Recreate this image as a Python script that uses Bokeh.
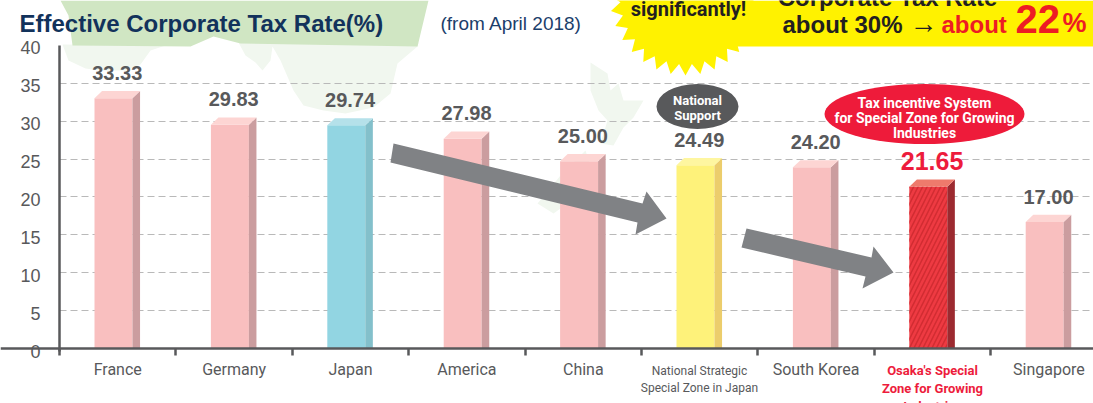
import numpy as np
from bokeh.embed import file_html
from bokeh.resources import INLINE
from bokeh.plotting import figure
from bokeh.models import Range1d, FixedTicker, Label, ColumnDataSource, LinearAxis
from bokeh.core.properties import value

categories = ["France", "Germany", "Japan", "America", "China",
              "National Strategic\nSpecial Zone in Japan", "South Korea",
              "Osaka's Special\nZone for Growing\nIndustries", "Singapore"]
values = [33.33, 29.83, 29.74, 27.98, 25.00, 24.49, 24.20, 21.65, 17.00]
value_labels = ["33.33", "29.83", "29.74", "27.98", "25.00", "24.49", "24.20", "21.65", "17.00"]
y_ticks = [0, 5, 10, 15, 20, 25, 30, 35, 40]
front_colors = ["#f9bfbf", "#f9bfbf", "#92d5e2", "#f9bfbf", "#f9bfbf", "#fef27a", "#f9bfbf", "#ee3a42", "#f9bfbf"]
side_colors = ["#cb9d9f", "#cb9d9f", "#83c0cb", "#cb9d9f", "#cb9d9f", "#eccd6c", "#cb9d9f", "#9c2a30", "#cb9d9f"]
top_colors = ["#fdd5d3", "#fdd5d3", "#b5e1ea", "#fdd5d3", "#fdd5d3", "#fef6a0", "#fdd5d3", "#ee7a6c", "#fdd5d3"]

PX_X0, PX_DX = 59.0, 116.4
PX_Y0, PX_DY = 348.0, 7.58
W, H = 1093, 403
GREY = "#58595b"
SANS = "Liberation Sans"
NARROW = "Roboto"

def dx(px): return (np.asarray(px, dtype=float) - PX_X0) / PX_DX
def dy(py): return (PX_Y0 - np.asarray(py, dtype=float)) / PX_DY

x0, x1 = float(dx(0)), float(dx(W))
y0, y1 = float(dy(H)), float(dy(0))
p = figure(width=W, height=H, output_backend="svg", toolbar_location=None,
           x_range=Range1d(x0, x1), y_range=Range1d(y0, y1),
           y_axis_location=None,
           min_border_left=0, min_border_right=0, min_border_top=0, min_border_bottom=0,
           outline_line_color=None)
LABEL_SHIFT = 2.5 / PX_DY
p.extra_y_ranges = {"labels": Range1d(y0 + LABEL_SHIFT, y1 + LABEL_SHIFT)}

# ---- axes
n = len(categories)
xa = p.xaxis[0]
xa.fixed_location = 0
xa.ticker = FixedTicker(ticks=[i + 0.5 for i in range(n)], minor_ticks=list(range(n + 1)))
xa.major_label_overrides = {i + 0.5: ("" if "\n" in c else c) for i, c in enumerate(categories)}
xa.major_tick_line_color = None
xa.major_tick_in = 0
xa.major_tick_out = 0
xa.minor_tick_in = 0
xa.minor_tick_out = 7
xa.minor_tick_line_color = GREY
xa.minor_tick_line_width = 2.5
xa.axis_line_color = GREY
xa.axis_line_width = 2.5
xa.major_label_standoff = 4
xa.major_label_text_font = NARROW
xa.major_label_text_font_size = "16px"
xa.major_label_text_color = GREY

ya = LinearAxis(y_range_name="labels", fixed_location=0)
ya.ticker = FixedTicker(ticks=y_ticks)
ya.bounds = (0, 40.3)
ya.major_tick_line_color = None
ya.major_tick_in = 0
ya.major_tick_out = 0
ya.minor_tick_line_color = None
ya.axis_line_color = GREY
ya.axis_line_width = 2.5
ya.major_label_standoff = 19
ya.major_label_text_font = SANS
ya.major_label_text_font_size = "18px"
ya.major_label_text_color = GREY
p.add_layout(ya, "left")

p.xgrid.visible = False
p.ygrid.ticker = FixedTicker(ticks=y_ticks[1:-1])
p.ygrid.cross_bounds = (0, x1)
p.ygrid.grid_line_color = "#b9b9b9"
p.ygrid.grid_line_dash = "7 4"
p.ygrid.grid_line_width = 1

# ---- background map
PALE, GREEN = "#f1f7ef", "#d0e6c3"
pale_shapes = [
    [(62, 44), (68, 60), (85, 68), (100, 70), (125, 70), (140, 64), (150, 50), (165, 45), (62, 44)],
    [(238, 42), (245, 55), (255, 62), (262, 70), (270, 60), (272, 46), (280, 60), (293, 90), (303, 105),
     (323, 110), (345, 113), (373, 107), (390, 93), (397, 63), (417, 46), (418, 42)],
    [(590, 62), (607, 73), (610, 90), (618, 83), (623, 100), (643, 100), (633, 117), (623, 127),
     (613, 145), (600, 143), (607, 120), (598, 110), (590, 90)],
    [(585, 150), (560, 175), (537, 203), (553, 213), (567, 203), (590, 165)],
]
green_shape = [(60, 0), (68, 15), (72, 45), (190, 46), (213, 36), (240, 43), (417, 46), (428, 0)]
for s in pale_shapes:
    a = np.array(s)
    p.patch(dx(a[:, 0]), dy(a[:, 1]), fill_color=PALE, line_color=None, level="image")
a = np.array(green_shape)
p.patch(dx(a[:, 0]), dy(a[:, 1]), fill_color=GREEN, line_color=None, level="image")

# ---- banner
YELLOW = "#fff200"
a = np.array([(735, 0), (1093, 0), (1093, 46), (735, 46)])
p.patch(dx(a[:, 0]), dy(a[:, 1]), fill_color=YELLOW, line_color=None)
angles = np.deg2rad(90 + np.arange(64) * 5.625)
radii = np.where(np.arange(64) % 2 == 0, 1.0, 0.86)
bx = 685 + 76 * radii * np.cos(angles)
by = -5 + 80 * radii * np.sin(angles)
p.patch(dx(bx), dy(by), fill_color=YELLOW, line_color=None)

# ---- bars
FRONT_L, FRONT_R, SIDE_R = 0.3007, 0.627, 0.692
TOP_DROP, TOP_RISE = 0.3, 0.65
idx = np.arange(n)
tops = np.array(values) - TOP_DROP
backs = np.array(values) + TOP_RISE
src = ColumnDataSource(dict(x=idx + (FRONT_L + FRONT_R) / 2, top=tops, color=front_colors))
p.vbar(x="x", width=FRONT_R - FRONT_L, bottom=0, top="top", fill_color="color", line_color=None, source=src)
p.patches([[i + FRONT_R, i + SIDE_R, i + SIDE_R, i + FRONT_R] for i in idx],
          [[0, 0, backs[i], tops[i]] for i in idx], fill_color=side_colors, line_color=None)
p.patches([[i + FRONT_L, i + FRONT_R, i + SIDE_R, i + FRONT_L + SIDE_R - FRONT_R] for i in idx],
          [[tops[i], tops[i], backs[i], backs[i]] for i in idx], fill_color=top_colors, line_color=None)
OSAKA = 7
p.vbar(x=[OSAKA + (FRONT_L + FRONT_R) / 2], width=FRONT_R - FRONT_L, bottom=0, top=[tops[OSAKA]],
       fill_alpha=0, line_color=None, hatch_pattern="right_diagonal_line", hatch_color="#cf2a30",
       hatch_scale=9, hatch_weight=1.6, hatch_alpha=0.9)

# ---- value labels
lx = idx + (FRONT_L + SIDE_R) / 2
for i in idx:
    osaka = i == OSAKA
    p.text([lx[i]], [backs[i]], text=[value_labels[i]], text_align="center", text_baseline="alphabetic",
           y_offset=-18, text_font=value(SANS), text_font_style="bold",
           text_font_size="25px" if osaka else "20px",
           text_color="#ed1c3c" if osaka else GREY)

# ---- arrows
ARROW = "#808285"
arrow1 = [(393, 143), (390, 162), (637, 222), (635, 234), (666, 218), (646, 191), (642, 203)]
arrow2 = [(746, 228), (741, 247), (865, 276), (862, 288), (893, 272), (873, 246), (871, 257)]
for arr in (arrow1, arrow2):
    a = np.array(arr)
    p.patch(dx(a[:, 0]), dy(a[:, 1]), fill_color=ARROW, line_color=None)

# ---- ellipses
p.ellipse(dx([697]), dy([106]), width=82 / PX_DX, height=45 / PX_DY, fill_color=GREY, line_color=None)
p.ellipse(dx([924]), dy([113.5]), width=200 / PX_DX, height=60 / PX_DY, fill_color="#ee1b3a", line_color=None)

BASELINE_FIX = 0.35

def label(txt, px, py, size, color, font=SANS, style="normal", align="center"):
    p.add_layout(Label(x=float(dx(px)), y=float(dy(py - BASELINE_FIX * size)), text=txt, text_font=font,
                       text_font_size=f"{size}px", text_font_style=style, text_color=color,
                       text_align=align, text_baseline="alphabetic"))

label("National", 697, 105, 13, "#ffffff", NARROW, "bold")
label("Support", 697, 120, 13, "#ffffff", NARROW, "bold")
label("Tax incentive System", 924, 107, 14, "#ffffff", NARROW, "bold")
label("for Special Zone for Growing", 924, 122, 14, "#ffffff", NARROW, "bold")
label("Industries", 924, 137, 14, "#ffffff", NARROW, "bold")

# ---- category labels that need their own colour / size
nat = categories[5].split("\n")
label(nat[0], 699, 375, 12, GREY, NARROW)
label(nat[1], 699, 392, 12, GREY, NARROW)
osk = categories[7].split("\n")
for line, y in zip(osk, (375, 393, 411)):
    label(line, 932, y, 13, "#ed1c3c", NARROW, "bold")

# ---- titles and banner text
label("Effective Corporate Tax Rate(%)", 19, 31, 24, "#12325b", SANS, "bold", "left")
label("(from April 2018)", 440, 30, 19, "#1b3e6b", SANS, "normal", "left")
label("significantly!", 688, 15, 20, "#231f20", NARROW, "bold")
label("Corporate Tax Rate", 887, 5, 24, "#231f20", SANS, "bold")
label("about 30%", 782, 32, 24, "#231f20", SANS, "bold", "left")
label("\u2192", 909, 33, 28, "#231f20", SANS, "normal", "left")
label("about", 941, 32, 24, "#ed1c24", SANS, "bold", "left")
label("22", 1015, 32, 40, "#ed1c24", SANS, "bold", "left")
label("%", 1062, 32, 27, "#ed1c24", SANS, "bold", "left")

open("out.html", "w").write(file_html(p, INLINE))
